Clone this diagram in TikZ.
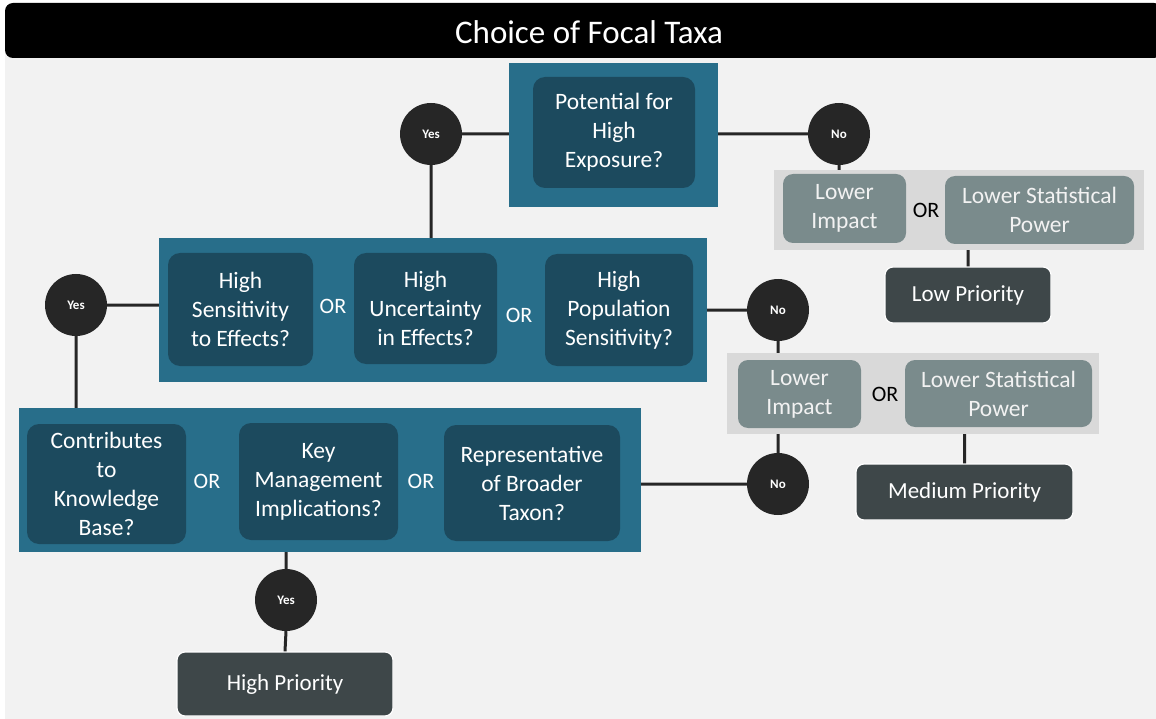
\documentclass[tikz,border=0pt]{standalone}
\usepackage{fontspec}
\setmainfont{Carlito}
\usepackage{xcolor}
\usetikzlibrary{
    calc,
    positioning
}
\definecolor{teal}{HTML}{286E8A}
\definecolor{deepteal}{HTML}{1C4A5E}
\definecolor{pale}{HTML}{D9D9D9}
\definecolor{slate}{HTML}{7A8B8C}
\definecolor{prio}{HTML}{3E4749}
\definecolor{dot}{HTML}{262626}
\definecolor{canvas}{HTML}{F2F2F2}

\begin{document}
\begin{tikzpicture}[x=1pt, y=-1pt,
    outer/.style={fill=teal, inner sep=0pt},
    inner/.style={fill=deepteal, rounded corners=12pt, text=white, align=center,
        inner sep=0pt, font=\fontsize{23.5}{29}\selectfont},
    grey/.style={fill=pale, inner sep=0pt},
    lower/.style={fill=slate, rounded corners=10pt, text=canvas, align=center,
        inner sep=0pt, font=\fontsize{23.5}{29}\selectfont},
    prio/.style={fill=prio, draw=white, line width=1.2pt, rounded corners=8pt,
        text=white, inner sep=0pt, font=\fontsize{23}{29}\selectfont},
    dec/.style={circle, fill=dot, text=white, inner sep=0pt, minimum size=62pt,
        font=\fontsize{13}{15}\selectfont\bfseries},
    ortxt/.style={font=\fontsize{22}{24}\selectfont},
    link/.style={draw=dot, line width=3pt}
    ]
    \useasboundingbox (0, 0) rectangle (1156, 719);
    \fill[white] (0, 0) rectangle (1156, 719);
    \fill[canvas] (5, 40) rectangle (1156, 719);
    \fill[black, rounded corners=8pt] (5, 3) rectangle (1162, 58);
    \node[text=white, font=\fontsize{33}{36}\selectfont] (title) at (589, 32) {Choice of Focal Taxa};

    % outer panels
    \node[outer, minimum width=209pt, minimum height=144pt] (boxA) at (613.5, 135) {};
    \node[outer, minimum width=548pt, minimum height=144pt] (boxB) at (433, 310) {};
    \node[outer, minimum width=622pt, minimum height=144pt] (boxC) at (330, 480) {};
    \node[grey, minimum width=370pt, minimum height=80pt] (grey1) at (959, 210) {};
    \node[grey, minimum width=372pt, minimum height=81pt] (grey2) at (913, 393.5) {};

    % questions
    \node[inner, minimum width=162pt, minimum height=111pt] (pe) at (614, 132.5) {Potential for\\High\\Exposure?};
    \node[inner, minimum width=145pt, minimum height=113pt] (hs) at (240.5, 309.5) {High\\Sensitivity\\to Effects?};
    \node[inner, minimum width=143pt, minimum height=111pt] (hu) at (425.5, 308.5) {High\\Uncertainty\\in Effects?};
    \node[inner, minimum width=148pt, minimum height=112pt] (hp) at (619, 310) {High\\Population\\Sensitivity?};
    \node[inner, minimum width=159pt, minimum height=120pt] (kb) at (106.5, 484) {Contributes\\to\\Knowledge\\Base?};
    \node[inner, minimum width=159pt, minimum height=117pt] (km) at (318.5, 481.5) {Key\\Management\\Implications?};
    \node[inner, minimum width=176pt, minimum height=116pt] (rb) at (532, 483) {Representative\\of Broader\\Taxon?};

    \node[ortxt, text=white] (or1) at (333, 306) {OR};
    \node[ortxt, text=white] (or2) at (519, 315) {OR};
    \node[ortxt, text=white] (or3) at (207, 481) {OR};
    \node[ortxt, text=white] (or4) at (421, 481) {OR};

    % lower boxes
    \node[lower, minimum width=123pt, minimum height=69pt] (li1) at (844.5, 208.5) {Lower\\Impact};
    \node[lower, minimum width=189pt, minimum height=68pt] (ls1) at (1039.5, 210) {Lower Statistical\\Power};
    \node[lower, minimum width=123pt, minimum height=68pt] (li2) at (799.5, 394) {Lower\\Impact};
    \node[lower, minimum width=187pt, minimum height=67pt] (ls2) at (998.5, 393.5) {Lower Statistical\\Power};
    \node[ortxt] (or5) at (926, 210) {OR};
    \node[ortxt] (or6) at (885, 394) {OR};

    % outcomes
    \node[prio, minimum width=166pt, minimum height=56pt] (low) at (968, 295) {Low Priority};
    \node[prio, minimum width=217pt, minimum height=56pt] (med) at (964.5, 492) {Medium Priority};
    \node[prio, minimum width=216pt, minimum height=64pt] (high) at (285, 684) {High Priority};

    % decisions
    \node[dec] (yes1) at (431, 134) {Yes};
    \node[dec] (no1) at (839, 134) {No};
    \node[dec] (yes2) at (76, 305) {Yes};
    \node[dec] (no2) at (778, 310) {No};
    \node[dec] (no3) at (778, 484) {No};
    \node[dec] (yes3) at (286, 600) {Yes};

    \draw[link]
    (yes1.east) -- (yes1.east -| boxA.west)
    (boxA.east |- no1.west) -- (no1.west)
    (yes1.south) -- (yes1.south |- boxB.north)
    (no1.south) -- (no1.south |- grey1.north)
    (grey1.south -| low.north) -- (low.north)
    (yes2.east) -- (yes2.east -| boxB.west)
    (yes2.south) -- (yes2.south |- boxC.north)
    (boxB.east |- no2.west) -- (no2.west)
    (no2.south) -- (no2.south |- grey2.north)
    (grey2.south -| med.north) -- (med.north)
    (boxC.east |- no3.west) -- (no3.west)
    (no3.north) -- (no3.north |- grey2.south)
    (yes3.north |- boxC.south) -- (yes3.north)
    (yes3.south) -- (high.north);
\end{tikzpicture}
\end{document}
